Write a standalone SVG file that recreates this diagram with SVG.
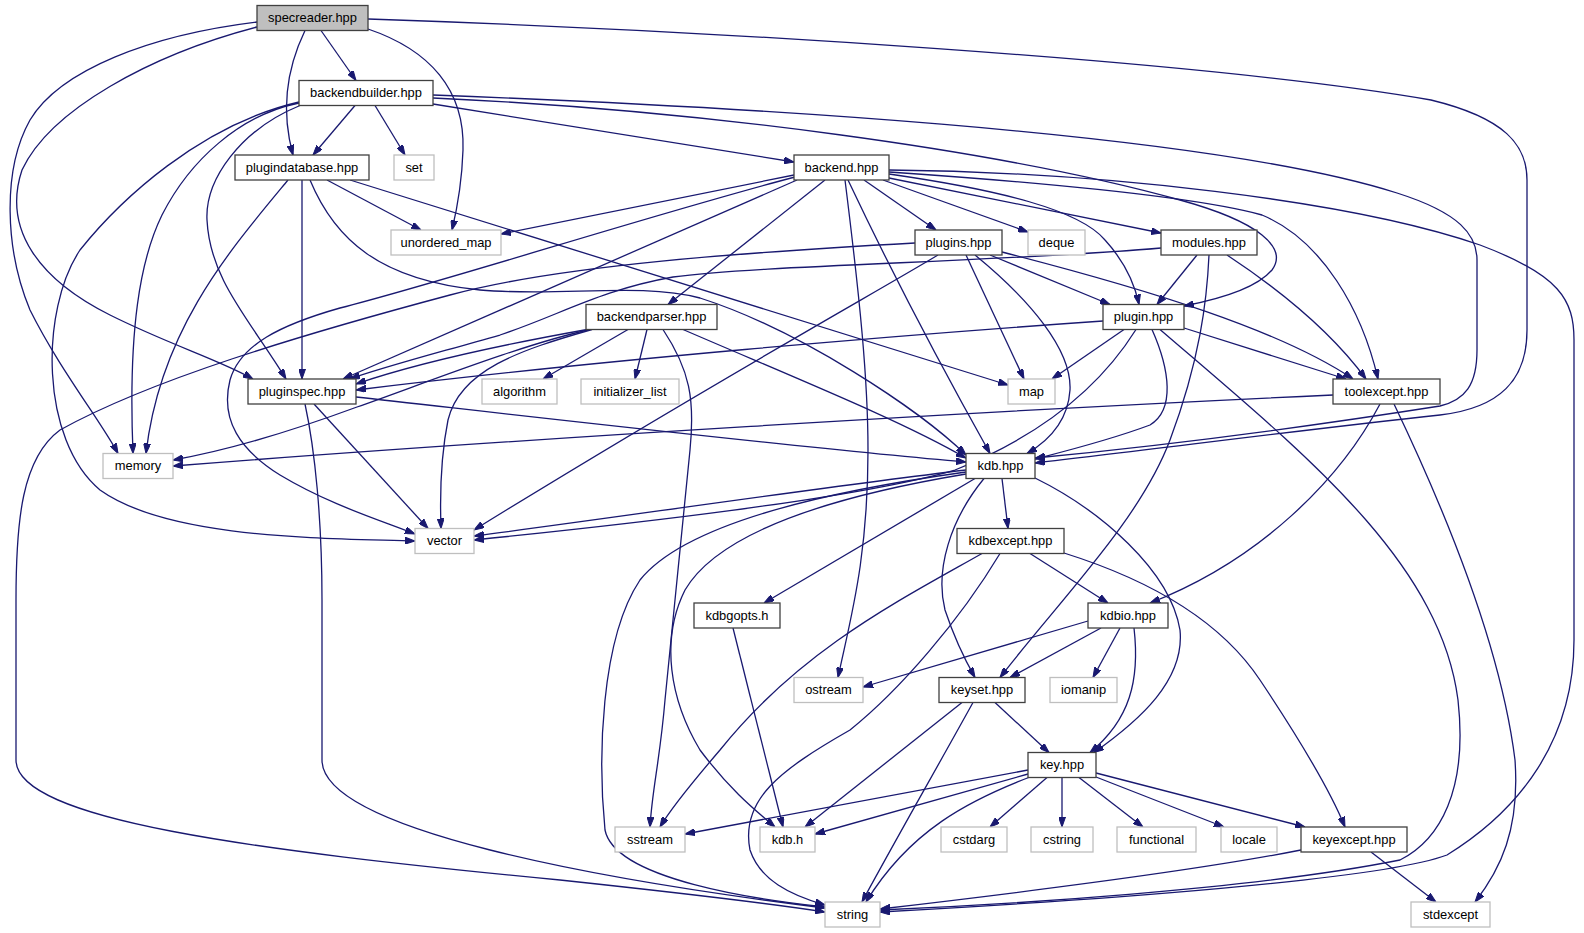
<svg xmlns="http://www.w3.org/2000/svg" width="1584" height="933" viewBox="0 0 1584 933">
<style>
.n rect{fill:#ffffff;stroke:#404040;stroke-width:1.3}
.g rect{fill:#ffffff;stroke:#bfbfbf;stroke-width:1.3}
.r rect{fill:#bfbfbf;stroke:#404040;stroke-width:1.3}
text{font-family:"Liberation Sans",Helvetica,Arial,sans-serif;font-size:12.9px;fill:#000000;text-anchor:middle}
#edges path{fill:none;stroke:#191970;stroke-width:1.3;marker-end:url(#a)}
</style>
<defs>
<marker id="a" viewBox="0 0 10 7" refX="10" refY="3.5" markerWidth="10" markerHeight="7" markerUnits="userSpaceOnUse" orient="auto"><path d="M0,0 L10,3.5 L0,7 z" fill="#191970" stroke="#191970" stroke-width="1"/></marker>
</defs>
<rect x="0" y="0" width="1584" height="933" fill="#ffffff"/>
<g id="edges">
<path d="M321,30.5 L356,80.5"/>
<path d="M305,30.5 C285,72 282,115 293,155"/>
<path d="M368,29 C430,50 465,90 463,150 C462,180 458,205 452,230"/>
<path d="M257,22 C150,35 60,70 30,120 C2,170 5,250 30,310 C60,370 100,420 118,453.5"/>
<path d="M257,27 C150,55 50,110 22,170 C2,230 40,280 110,315 C170,345 220,360 253,379"/>
<path d="M368,19 C700,30 1200,60 1431,100 C1505,118 1527,145 1527,180 L1527,330 C1527,380 1500,408 1440,415 C1300,430 1150,450 1035,463"/>
<path d="M433,95 C700,105 1200,130 1397,193 C1460,213 1477,235 1477,260 L1477,350 C1477,385 1465,400 1440,406 C1300,428 1150,447 1035,458"/>
<path d="M355,105.5 L313,155"/>
<path d="M375,105.5 L405,155"/>
<path d="M433,104 L794,162"/>
<path d="M299,103 C240,115 190,160 162,215 C140,260 128,330 133,453.5"/>
<path d="M299,102 C200,125 120,200 80,250 C40,310 40,440 100,490 C170,540 330,538 415,541"/>
<path d="M300,105.5 C240,130 205,180 207,220 C210,280 250,320 286,379"/>
<path d="M433,98 C700,110 1000,150 1180,200 C1260,222 1288,248 1272,270 C1255,290 1215,300 1184,306"/>
<path d="M327,180 L421,230"/>
<path d="M350,180 L1008,385"/>
<path d="M302,180 L302,379"/>
<path d="M288,180 C230,250 160,330 146,453.5"/>
<path d="M310,180 C335,240 380,280 480,290 C560,297 640,282 700,298 C800,330 920,410 966,455"/>
<path d="M864,180 L936,230"/>
<path d="M883,180 L1028,232"/>
<path d="M889,178 L1161,233"/>
<path d="M889,174 C1000,190 1080,210 1105,240 C1125,262 1135,285 1139,304.5"/>
<path d="M889,172 C1050,183 1200,198 1262,215 C1322,240 1362,310 1378,379"/>
<path d="M889,170 C1100,172 1350,200 1480,245 C1560,275 1574,300 1574,340 L1574,640 C1574,740 1520,810 1447,855 C1380,880 1100,900 880,912"/>
<path d="M848,180 C900,290 960,400 990,453.5"/>
<path d="M845,180 C860,300 868,380 868,450 C868,560 850,620 838,677.5"/>
<path d="M825,180 L668,304.5"/>
<path d="M794,175 L501,234"/>
<path d="M797,180 L343,379"/>
<path d="M795,177 C650,215 450,280 340,308 C280,325 240,345 230,380 C220,420 240,450 280,475 C330,505 380,520 415,534"/>
<path d="M990,255 L1110,304.5"/>
<path d="M966,255 L1024,379"/>
<path d="M975,255 C1030,300 1072,350 1070,390 C1068,420 1050,440 1027,453.5"/>
<path d="M1002,252 C1150,290 1280,330 1353,379"/>
<path d="M938,255 C880,290 700,390 474,530"/>
<path d="M915,243 C750,252 560,265 450,295 C300,335 150,380 60,430 C22,458 16,520 16,600 L16,760 C16,820 250,850 560,880 C700,895 780,905 825,912"/>
<path d="M1197,255 L1157,304.5"/>
<path d="M1227,255 C1280,290 1330,330 1366,379"/>
<path d="M1209,255 C1207,300 1200,360 1170,440 C1140,520 1060,600 1000,677.5"/>
<path d="M1161,248 C1000,262 760,265 673,277 C600,290 560,315 500,335 C430,355 380,368 350,379"/>
<path d="M628,329.5 L543,379"/>
<path d="M647,329.5 L635,379"/>
<path d="M663,329.5 C690,370 695,400 690,450 L665,700 C660,760 652,790 650,827"/>
<path d="M683,329.5 C800,380 900,420 966,458"/>
<path d="M590,329.5 C520,345 420,385 357,407 C300,428 230,450 173,460"/>
<path d="M590,329 C500,345 420,362 356,384"/>
<path d="M592,329.5 C520,350 460,370 448,420 C440,460 440,500 441,528.5"/>
<path d="M1124,329.5 L1052,379"/>
<path d="M1152,329.5 C1170,370 1175,410 1150,425 C1110,440 1070,450 1035,459"/>
<path d="M1136,329.5 C1095,395 1030,440 955,470 C850,500 620,525 474,540"/>
<path d="M1160,329.5 C1300,450 1440,560 1458,700 C1468,790 1440,840 1400,860 C1250,890 1000,905 880,910"/>
<path d="M1184,328 L1346,379"/>
<path d="M1103,321 C900,335 600,360 356,390"/>
<path d="M356,397 C500,413 800,448 966,462"/>
<path d="M314,404 L428,528.5"/>
<path d="M305,404 C315,450 322,520 322,600 L322,760 C322,830 600,880 825,908"/>
<path d="M1333,395 C1000,410 500,440 173,466"/>
<path d="M1380,404 C1340,480 1260,560 1150,603"/>
<path d="M1394,404 C1440,500 1500,640 1515,760 C1520,830 1500,870 1475,902"/>
<path d="M1002,478.5 L1008,528.5"/>
<path d="M975,478.5 L764,603"/>
<path d="M984,478.5 C950,520 935,570 945,610 C955,640 965,660 975,677.5"/>
<path d="M1035,478 C1100,510 1170,570 1180,630 C1185,680 1140,720 1094,752.5"/>
<path d="M966,470 C800,490 600,520 474,536"/>
<path d="M966,474 C840,495 720,530 685,590 C660,640 670,700 700,750 C730,790 755,810 775,827"/>
<path d="M966,472 C800,495 680,530 640,580 C600,640 598,760 605,830 C615,880 760,900 825,907"/>
<path d="M1030,553.5 L1108,603"/>
<path d="M1064,553 C1150,580 1220,620 1260,680 C1300,740 1330,790 1345,827"/>
<path d="M982,553.5 C900,600 800,650 720,750 C690,785 670,810 660,827"/>
<path d="M1000,553.5 C960,620 900,690 850,730 C780,770 740,800 750,850 C760,880 790,895 825,905"/>
<path d="M733,628 L783,827"/>
<path d="M1088,621 L863,687"/>
<path d="M1101,628 L1010,677.5"/>
<path d="M1120,628 L1093,677.5"/>
<path d="M1134,628 C1140,680 1130,720 1090,752.5"/>
<path d="M995,702.5 L1049,752.5"/>
<path d="M962,702.5 L805,827"/>
<path d="M973,702.5 C930,780 890,850 862,902"/>
<path d="M1028,770 L685,834"/>
<path d="M1028,774 L815,834"/>
<path d="M1030,777 C970,800 910,830 866,902"/>
<path d="M1047,777.5 L990,827"/>
<path d="M1062,777.5 L1062,827"/>
<path d="M1079,777.5 L1143,827"/>
<path d="M1096,777 L1224,827"/>
<path d="M1096,773 L1305,827"/>
<path d="M1301,850 C1200,870 1000,895 880,909"/>
<path d="M1371,852 L1436,902"/>
</g>
<g id="n_specreader" class="r"><rect x="257" y="5.5" width="111" height="25"/><text x="312.5" y="22.3">specreader.hpp</text></g>
<g id="n_backendbuilder" class="n"><rect x="299" y="80.5" width="134" height="25"/><text x="366" y="97.3">backendbuilder.hpp</text></g>
<g id="n_plugindatabase" class="n"><rect x="235" y="155" width="134" height="25"/><text x="302" y="171.8">plugindatabase.hpp</text></g>
<g id="n_set" class="g"><rect x="394" y="155" width="40" height="25"/><text x="414" y="171.8">set</text></g>
<g id="n_backend" class="n"><rect x="794" y="155" width="95" height="25"/><text x="841.5" y="171.8">backend.hpp</text></g>
<g id="n_unordered_map" class="g"><rect x="391" y="230" width="110" height="25"/><text x="446" y="246.8">unordered_map</text></g>
<g id="n_plugins" class="n"><rect x="915" y="230" width="87" height="25"/><text x="958.5" y="246.8">plugins.hpp</text></g>
<g id="n_deque" class="g"><rect x="1028" y="230" width="57" height="25"/><text x="1056.5" y="246.8">deque</text></g>
<g id="n_modules" class="n"><rect x="1161" y="230" width="96" height="25"/><text x="1209" y="246.8">modules.hpp</text></g>
<g id="n_backendparser" class="n"><rect x="586" y="304.5" width="131" height="25"/><text x="651.5" y="321.3">backendparser.hpp</text></g>
<g id="n_plugin" class="n"><rect x="1103" y="304.5" width="81" height="25"/><text x="1143.5" y="321.3">plugin.hpp</text></g>
<g id="n_pluginspec" class="n"><rect x="248" y="379" width="108" height="25"/><text x="302" y="395.8">pluginspec.hpp</text></g>
<g id="n_algorithm" class="g"><rect x="482" y="379" width="75" height="25"/><text x="519.5" y="395.8">algorithm</text></g>
<g id="n_initializer_list" class="g"><rect x="581" y="379" width="98" height="25"/><text x="630" y="395.8">initializer_list</text></g>
<g id="n_map" class="g"><rect x="1008" y="379" width="47" height="25"/><text x="1031.5" y="395.8">map</text></g>
<g id="n_toolexcept" class="n"><rect x="1333" y="379" width="107" height="25"/><text x="1386.5" y="395.8">toolexcept.hpp</text></g>
<g id="n_memory" class="g"><rect x="103" y="453.5" width="70" height="25"/><text x="138" y="470.3">memory</text></g>
<g id="n_kdb" class="n"><rect x="966" y="453.5" width="69" height="25"/><text x="1000.5" y="470.3">kdb.hpp</text></g>
<g id="n_vector" class="g"><rect x="415" y="528.5" width="59" height="25"/><text x="444.5" y="545.3">vector</text></g>
<g id="n_kdbexcept" class="n"><rect x="957" y="528.5" width="107" height="25"/><text x="1010.5" y="545.3">kdbexcept.hpp</text></g>
<g id="n_kdbgopts" class="n"><rect x="694" y="603" width="86" height="25"/><text x="737" y="619.8">kdbgopts.h</text></g>
<g id="n_kdbio" class="n"><rect x="1088" y="603" width="80" height="25"/><text x="1128" y="619.8">kdbio.hpp</text></g>
<g id="n_ostream" class="g"><rect x="794" y="677.5" width="69" height="25"/><text x="828.5" y="694.3">ostream</text></g>
<g id="n_keyset" class="n"><rect x="939" y="677.5" width="86" height="25"/><text x="982" y="694.3">keyset.hpp</text></g>
<g id="n_iomanip" class="g"><rect x="1050" y="677.5" width="67" height="25"/><text x="1083.5" y="694.3">iomanip</text></g>
<g id="n_key" class="n"><rect x="1028" y="752.5" width="68" height="25"/><text x="1062" y="769.3">key.hpp</text></g>
<g id="n_sstream" class="g"><rect x="615" y="827" width="70" height="25"/><text x="650" y="843.8">sstream</text></g>
<g id="n_kdbh" class="g"><rect x="760" y="827" width="55" height="25"/><text x="787.5" y="843.8">kdb.h</text></g>
<g id="n_cstdarg" class="g"><rect x="941" y="827" width="66" height="25"/><text x="974" y="843.8">cstdarg</text></g>
<g id="n_cstring" class="g"><rect x="1031" y="827" width="62" height="25"/><text x="1062" y="843.8">cstring</text></g>
<g id="n_functional" class="g"><rect x="1117" y="827" width="79" height="25"/><text x="1156.5" y="843.8">functional</text></g>
<g id="n_locale" class="g"><rect x="1221" y="827" width="56" height="25"/><text x="1249" y="843.8">locale</text></g>
<g id="n_keyexcept" class="n"><rect x="1301" y="827" width="106" height="25"/><text x="1354" y="843.8">keyexcept.hpp</text></g>
<g id="n_string" class="g"><rect x="825" y="902" width="55" height="25"/><text x="852.5" y="918.8">string</text></g>
<g id="n_stdexcept" class="g"><rect x="1411" y="902" width="79" height="25"/><text x="1450.5" y="918.8">stdexcept</text></g>
</svg>
